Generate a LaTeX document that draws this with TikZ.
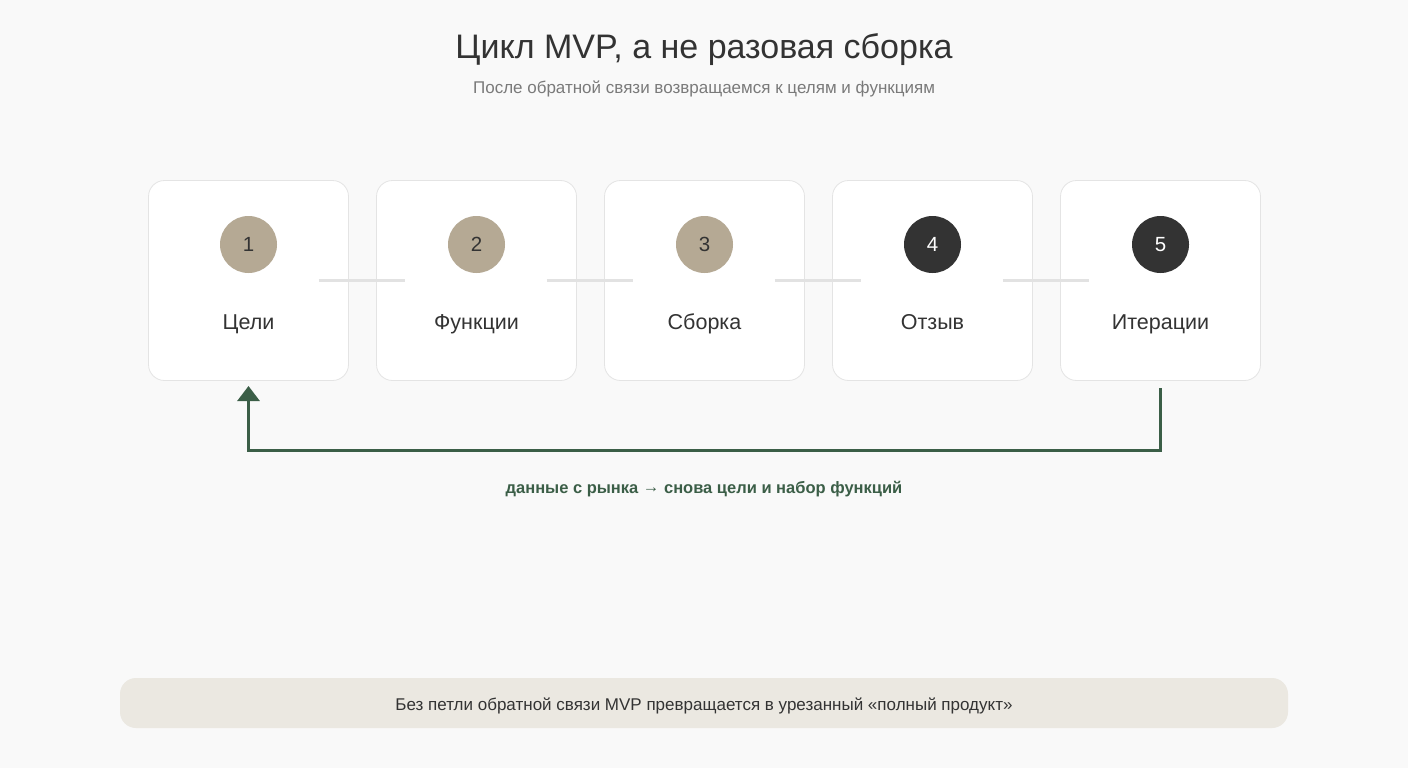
\documentclass[tikz,border=0pt]{standalone}
\usepackage{fontspec}
\setmainfont{Liberation Sans}
\usetikzlibrary{arrows.meta}
\definecolor{bgc}{HTML}{F9F9F9}
\definecolor{cardline}{HTML}{E4E4E4}
\definecolor{tan}{HTML}{B5A994}
\definecolor{dark}{HTML}{333333}
\definecolor{txt}{HTML}{333333}
\definecolor{sub}{HTML}{7A7A7A}
\definecolor{grn}{HTML}{3B5E47}
\definecolor{barfill}{HTML}{EBE8E1}
\definecolor{conn}{HTML}{E2E2E2}
\tikzset{
  capbox/.style={inner sep=0pt, text height=#1, text depth=0pt},
  card/.style={draw=cardline, line width=0.8pt, fill=white, rounded corners=16pt, minimum width=200pt, minimum height=200pt, inner sep=0pt},
  numlight/.style={circle, fill=tan, minimum size=57pt, inner sep=0pt, text=txt, font=\fontsize{20.5}{22}\selectfont},
  numdark/.style={circle, fill=dark, minimum size=57pt, inner sep=0pt, text=white, font=\fontsize{20.5}{22}\selectfont},
  lbl/.style={capbox=15.5pt, text=txt, font=\fontsize{21.5}{24}\selectfont},
  connline/.style={draw=conn, line width=3pt},
  loop/.style={draw=grn, line width=3pt},
}
\begin{document}
\begin{tikzpicture}[x=1pt,y=-1pt]
\fill[bgc] (0,0) rectangle (1408,768);
\useasboundingbox (0,0) rectangle (1408,768);

\node[capbox=24.5pt, text=txt, font=\fontsize{34}{38}\selectfont] (title) at (704,46) {Цикл MVP, а не разовая сборка};
\node[capbox=12.2pt, text=sub, font=\fontsize{17}{20}\selectfont] (subtitle) at (704,87) {После обратной связи возвращаемся к целям и функциям};

\foreach \i/\x in {1/248.5,2/476.5,3/704.5,4/932.5,5/1160.5}{
  \node[card] (c\i) at (\x,280.5) {};
}
\foreach \i/\x in {1/248.5,2/476.5,3/704.5}{
  \node[numlight] (n\i) at (\x,244.5) {\i};
}
\foreach \i/\x in {4/932.5,5/1160.5}{
  \node[numdark] (n\i) at (\x,244.5) {\i};
}
\node[lbl] (l1) at (248.5,321.5) {Цели};
\node[lbl] (l2) at (476.5,321.5) {Функции};
\node[lbl] (l3) at (704.5,321.5) {Сборка};
\node[lbl] (l4) at (932.5,321.5) {Отзыв};
\node[lbl] (l5) at (1160.5,321.5) {Итерации};

\foreach \a/\b in {1/2,2/3,3/4,4/5}{
  \draw[connline] ([xshift=-30pt]c\a.east) -- ([xshift=29pt]c\b.west);
}

\coordinate (start) at (1160.5,388);
\coordinate (tip) at (248.5,386);
\draw[loop, -{Triangle[width=22pt,length=15pt]}] (start) -- (1160.5,450) -- (248.5,450) -- (tip);

\node[capbox=11.9pt, text=grn, font=\bfseries\fontsize{16.5}{20}\selectfont] (note) at (704,488) {данные с рынка \raisebox{1.8pt}{→} снова цели и набор функций};

\node[fill=barfill, rounded corners=16pt, minimum width=1168pt, minimum height=50pt, inner sep=0pt] (bar) at (704,703) {};
\node[capbox=12.2pt, text=txt, font=\fontsize{17}{20}\selectfont] (bartext) at (704,704) {Без петли обратной связи MVP превращается в урезанный «полный продукт»};
\end{tikzpicture}
\end{document}
